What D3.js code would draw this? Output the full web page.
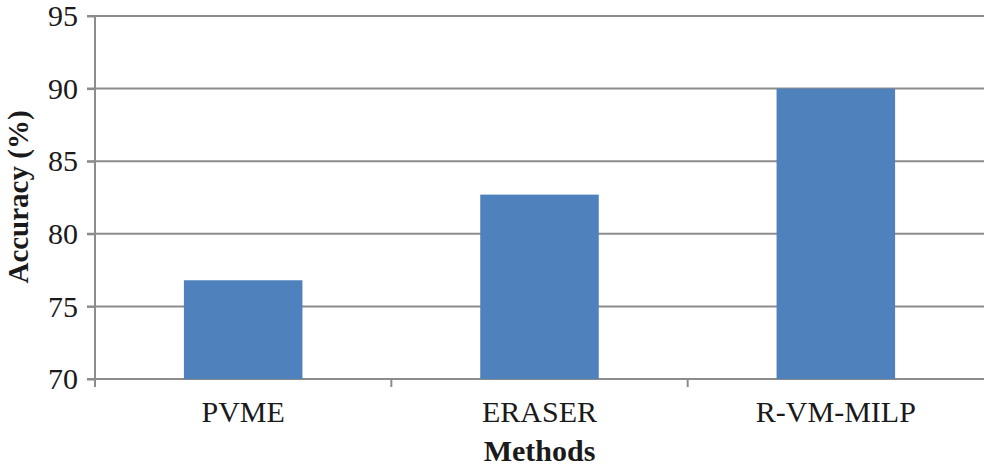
<!DOCTYPE html>
<html>
<head>
<meta charset="utf-8">
<script src="https://cdn.jsdelivr.net/npm/d3@7"></script>
<style>
  body { margin: 0; background: #fff; }
  svg text { font-family: "Liberation Serif", "Times New Roman", serif; fill: #1a1a1a; }
</style>
</head>
<body>
<svg id="chart" width="985" height="469"></svg>
<script>
// 数据
const methods = ["PVME", "ERASER", "R-VM-MILP"];
const accuracy = [76.8, 82.7, 90.0];
const yTicks = [70, 75, 80, 85, 90, 95];

const W = 985, H = 469;
const m = { left: 95, right: 1, top: 16, bottom: 90 };
const serif = '"Liberation Serif", "Times New Roman", serif';

const svg = d3.select("#chart");

const x = d3.scaleBand()
    .domain(methods)
    .range([m.left, W - m.right])
    .paddingInner(0.6)
    .paddingOuter(0.3);

const y = d3.scaleLinear()
    .domain([70, 95])
    .range([H - m.bottom, m.top]);

// 网格线
svg.append("g")
    .selectAll("line")
    .data(yTicks)
    .enter().append("line")
    .attr("x1", m.left - 8)
    .attr("x2", W - m.right)
    .attr("y1", d => y(d))
    .attr("y2", d => y(d))
    .attr("stroke", "#8c8c8c")
    .attr("stroke-width", 2);

// 柱子
svg.append("g")
    .selectAll("rect")
    .data(methods)
    .enter().append("rect")
    .attr("x", d => x(d))
    .attr("width", x.bandwidth())
    .attr("y", (d, i) => y(accuracy[i]))
    .attr("height", (d, i) => y(70) - y(accuracy[i]))
    .attr("fill", "#4f81bd");

// y轴
const yAxis = svg.append("g")
    .attr("transform", "translate(" + m.left + ",0)")
    .call(d3.axisLeft(y).tickValues(yTicks).tickSize(8).tickPadding(9));
yAxis.attr("font-family", null).attr("font-size", null);
yAxis.select(".domain").remove();
yAxis.selectAll(".tick line").attr("stroke", "#8c8c8c").attr("stroke-width", 2);
yAxis.selectAll(".tick text")
    .style("font-family", serif)
    .style("font-size", "30px")
    .attr("fill", "#1a1a1a");
svg.append("line")
    .attr("x1", m.left).attr("x2", m.left)
    .attr("y1", m.top - 1).attr("y2", y(70) + 8)
    .attr("stroke", "#8c8c8c").attr("stroke-width", 2);

// x轴
const bounds = d3.range(methods.length + 1).map(i => m.left + i * (W - m.right - m.left) / methods.length);
svg.append("g")
    .selectAll("line")
    .data(bounds.slice(1, -1))
    .enter().append("line")
    .attr("x1", d => d).attr("x2", d => d)
    .attr("y1", y(70)).attr("y2", y(70) + 8)
    .attr("stroke", "#8c8c8c").attr("stroke-width", 2);

svg.append("g")
    .selectAll("text")
    .data(methods)
    .enter().append("text")
    .attr("x", d => x(d) + x.bandwidth() / 2)
    .attr("y", y(70) + 43)
    .attr("text-anchor", "middle")
    .style("font-size", "30px")
    .text(d => d);

// 轴标题
svg.append("text")
    .attr("x", (m.left + W - m.right) / 2)
    .attr("y", 461)
    .attr("text-anchor", "middle")
    .style("font-size", "30px")
    .style("font-weight", "bold")
    .text("Methods");

svg.append("text")
    .attr("transform", "translate(28,197) rotate(-90)")
    .attr("text-anchor", "middle")
    .style("font-size", "29px")
    .style("font-weight", "bold")
    .text("Accuracy (%)");
</script>
</body>
</html>
